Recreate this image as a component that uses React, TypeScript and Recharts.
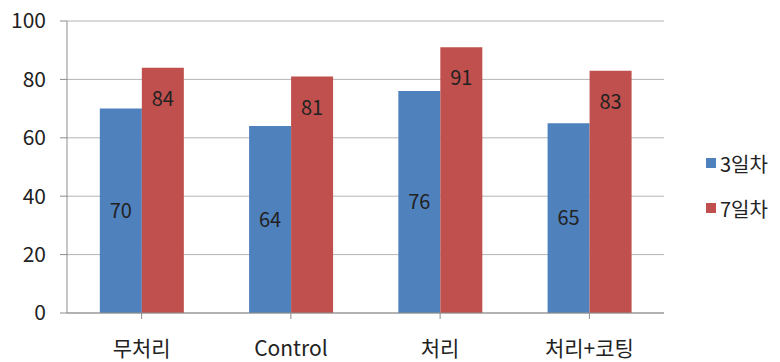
import React from 'react';
import { BarChart, Bar, XAxis, YAxis, CartesianGrid, LabelList } from 'recharts';

const CATEGORIES = ['무처리', 'Control', '처리', '처리+코팅'];
const DAY3 = [70, 64, 76, 65];
const DAY7 = [84, 81, 91, 83];
const Y_TICKS = [0, 20, 40, 60, 80, 100];

const FONT = '"Noto Sans CJK KR", "Noto Sans", sans-serif';

const data = CATEGORIES.map((name, i) => ({ name, d3: DAY3[i], d7: DAY7[i] }));

const SERIES = [
  { key: 'd3', name: '3일차', color: '#4F81BD' },
  { key: 'd7', name: '7일차', color: '#C0504D' },
];

export default function App() {
  return (
    <div style={{ position: 'absolute', left: 0, top: 0, width: 780, height: 362, background: '#fff' }}>
      <BarChart
        width={780}
        height={362}
        data={data}
        margin={{ top: 21, right: 116, bottom: 0, left: 0 }}
        barCategoryGap="22%"
        barGap={0}
      >
        <CartesianGrid vertical={false} stroke="#b4b4b4" />
        <XAxis
          dataKey="name"
          height={49}
          stroke="#8c8c8c"
          tickSize={6}
          tickMargin={22}
          tick={{ fill: '#222', fontSize: 21, fontFamily: FONT }}
          interval={0}
        />
        <YAxis
          width={67}
          domain={[0, 100]}
          ticks={Y_TICKS}
          stroke="#8c8c8c"
          tickSize={7}
          tickMargin={14}
          tick={{ fill: '#222', fontSize: 21, fontFamily: FONT }}
        />
        <Bar dataKey="d3" name="3일차" fill="#4F81BD" isAnimationActive={false}>
          <LabelList dataKey="d3" position="center" fill="#222" fontSize={20} fontFamily={FONT} />
        </Bar>
        <Bar dataKey="d7" name="7일차" fill="#C0504D" isAnimationActive={false}>
          <LabelList dataKey="d7" position="insideTop" offset={24} fill="#222" fontSize={20} fontFamily={FONT} />
        </Bar>
      </BarChart>
      <div style={{ position: 'absolute', left: 706, top: 150, fontFamily: FONT, fontSize: 20, color: '#222' }}>
        {SERIES.map((s) => (
          <div key={s.key} style={{ display: 'flex', alignItems: 'center', height: 26, marginBottom: 19 }}>
            <span style={{ width: 10, height: 10, background: s.color, marginRight: 4, display: 'inline-block' }} />
            <span>{s.name}</span>
          </div>
        ))}
      </div>
    </div>
  );
}
